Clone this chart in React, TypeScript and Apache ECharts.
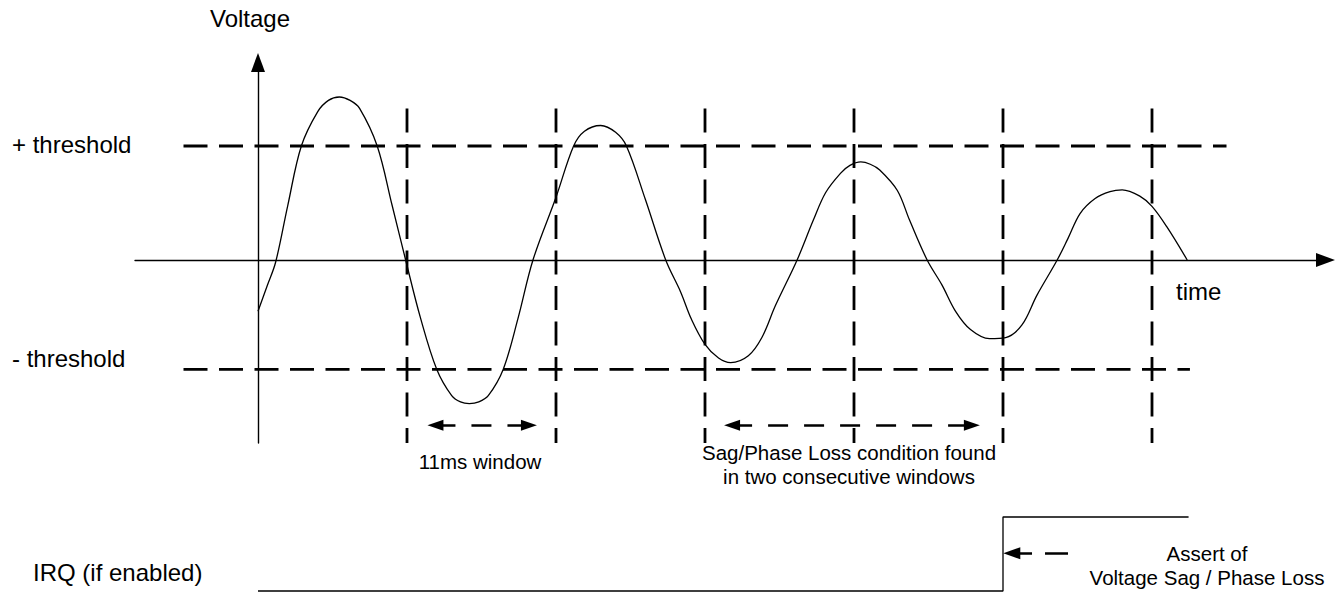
import React, { useEffect, useRef } from "react";
import * as echarts from "echarts";

// ---------- data ----------
const timeMs = [
  0, 0.7, 1.3, 2.2, 3.2, 4.4, 5.2, 6.0, 6.8, 7.5, 8.8, 9.9,
  10.9, 12.0, 13.2, 14.3, 14.95, 15.6, 16.3, 17.0, 18.1, 19.2, 20.3, 22.0,
  23.3, 24.1, 25.3, 26.4, 27.2, 28.6, 30.1, 31.2, 32.0, 33.0,
  34.0, 34.9, 36.2, 37.2, 38.2, 39.8, 41.0, 41.9, 43.0, 43.7, 44.5, 45.2,
  45.9, 47.2, 48.1, 49.4, 50.5, 51.5, 52.6, 54.0, 55.2, 56.4,
  57.5, 59.0, 59.8, 60.7, 61.8, 62.9, 63.8, 65.1, 66.0, 67.1,
  68.6,
];
const voltage = [
  -0.45, -0.22, -0.02, 0.48, 1.0, 1.3, 1.4, 1.43, 1.4, 1.33, 1.0, 0.48,
  0, -0.51, -0.96, -1.19, -1.245, -1.26, -1.245, -1.19, -0.96, -0.51, 0, 0.55,
  1.0, 1.13, 1.18, 1.12, 1.0, 0.53, 0, -0.28, -0.52, -0.74,
  -0.86, -0.9, -0.84, -0.68, -0.4, 0, 0.35, 0.59, 0.76, 0.83, 0.86, 0.84,
  0.79, 0.61, 0.35, 0, -0.22, -0.45, -0.61, -0.69, -0.68, -0.57,
  -0.31, 0, 0.19, 0.41, 0.54, 0.6, 0.615, 0.56, 0.47, 0.29,
  0,
];
const windowEdgesMs = [11, 22, 33, 44, 55, 66];
const plusThreshold = 1.0;
const minusThreshold = -0.96;
const plusThresholdSpanMs = [-5.5, 71.5];
const minusThresholdSpanMs = [-5.5, 68.8];
const windowLineTopV = 1.33;
const irqTimeMs = [0, 55, 55, 68.7];
const irqLevel = [0, 0, 1, 1];
const windowArrowMs = [13.1, 20.0];
const sagArrowMs = [35.0, 52.7];
const arrowLevelV = -1.45;
const irqArrowMs = [59.8, 55.65];
const irqArrowLevel = 0.51;

const labels = {
  yName: "Voltage",
  xName: "time",
  plus: "+ threshold",
  minus: "- threshold",
  irq: "IRQ (if enabled)",
  window: "11ms window",
  sag1: "Sag/Phase Loss condition found",
  sag2: "in two consecutive windows",
  assert1: "Assert of",
  assert2: "Voltage Sag / Phase Loss",
};

// ---------- layout ----------
const W = 1340;
const H = 602;
const PX_PER_MS = 149 / 11;
const PX_PER_V = 114;
const ORIGIN_X = 258;
const ORIGIN_Y = 260;
const GRID_LEFT = 135;
const GRID_RIGHT_PX = 1325.5;
const GRID_TOP = 62.5;
const GRID_BOTTOM_PX = 443;
const X_MIN = (GRID_LEFT - ORIGIN_X) / PX_PER_MS;
const X_MAX = (GRID_RIGHT_PX - ORIGIN_X) / PX_PER_MS;
const Y_MAX = (ORIGIN_Y - GRID_TOP) / PX_PER_V;
const Y_MIN = (ORIGIN_Y - GRID_BOTTOM_PX) / PX_PER_V;

const FONT = '"Liberation Sans", Arial, Helvetica, sans-serif';
const BLACK = "#000";
const DASH = [24, 11.5];

function txt(text: string, x: number, y: number, size: number, align: string) {
  return {
    type: "text",
    x,
    y,
    silent: true,
    style: {
      text,
      fill: BLACK,
      fontSize: size,
      fontFamily: FONT,
      align,
      verticalAlign: "middle",
    },
  };
}

export default function App() {
  const ref = useRef<HTMLDivElement>(null);

  useEffect(() => {
    if (!ref.current) return;
    const chart = echarts.init(ref.current, undefined, { renderer: "svg" });

    const hiddenAxisParts = {
      axisTick: { show: false },
      axisLabel: { show: false },
      splitLine: { show: false },
    };

    const windowLines = windowEdgesMs.map((t) => ({
      type: "line",
      xAxisIndex: 0,
      yAxisIndex: 0,
      data: [
        [t, windowLineTopV],
        [t, Y_MIN],
      ],
      symbol: "none",
      clip: false,
      silent: true,
      lineStyle: { color: BLACK, width: 2.8, type: DASH },
    }));

    const option = {
      animation: false,
      backgroundColor: "#fff",
      grid: [
        { left: GRID_LEFT, right: W - GRID_RIGHT_PX, top: GRID_TOP, bottom: H - GRID_BOTTOM_PX },
        { left: GRID_LEFT, right: W - GRID_RIGHT_PX, top: 517, height: 74 },
      ],
      xAxis: [
        {
          type: "value",
          gridIndex: 0,
          min: X_MIN,
          max: X_MAX,
          axisLine: {
            show: true,
            onZero: true,
            symbol: ["none", "triangle"],
            symbolSize: [14, 19],
            lineStyle: { color: BLACK, width: 1.4 },
          },
          ...hiddenAxisParts,
        },
        { type: "value", gridIndex: 1, min: X_MIN, max: X_MAX, show: false },
      ],
      yAxis: [
        {
          type: "value",
          gridIndex: 0,
          min: Y_MIN,
          max: Y_MAX,
          axisLine: {
            show: true,
            onZero: true,
            symbol: ["none", "triangle"],
            symbolSize: [14, 19],
            lineStyle: { color: BLACK, width: 1.4 },
          },
          ...hiddenAxisParts,
        },
        { type: "value", gridIndex: 1, min: 0, max: 1, show: false },
      ],
      series: [
        {
          type: "line",
          name: "+ threshold",
          data: plusThresholdSpanMs.map((t) => [t, plusThreshold]),
          symbol: "none",
          clip: false,
          silent: true,
          lineStyle: { color: BLACK, width: 2.8, type: DASH },
        },
        {
          type: "line",
          name: "- threshold",
          data: minusThresholdSpanMs.map((t) => [t, minusThreshold]),
          symbol: "none",
          clip: false,
          silent: true,
          lineStyle: { color: BLACK, width: 2.8, type: DASH },
        },
        ...windowLines,
        {
          type: "line",
          name: "Voltage",
          data: timeMs.map((t, i) => [t, voltage[i]]),
          symbol: "none",
          smooth: 0.35,
          clip: false,
          silent: true,
          lineStyle: { color: BLACK, width: 1.3 },
          markLine: {
            silent: true,
            symbol: ["triangle", "triangle"],
            symbolSize: [11, 16],
            label: { show: false },
            lineStyle: { color: BLACK, width: 2.6, type: [20, 16] },
            data: [
              [
                { coord: [windowArrowMs[0], arrowLevelV] },
                { coord: [windowArrowMs[1], arrowLevelV] },
              ],
              [
                { coord: [sagArrowMs[0], arrowLevelV] },
                { coord: [sagArrowMs[1], arrowLevelV] },
              ],
            ],
          },
        },
        {
          type: "line",
          name: "IRQ",
          xAxisIndex: 1,
          yAxisIndex: 1,
          data: irqTimeMs.map((t, i) => [t, irqLevel[i]]),
          symbol: "none",
          clip: false,
          silent: true,
          lineStyle: { color: BLACK, width: 1.3 },
          markLine: {
            silent: true,
            symbol: ["none", "triangle"],
            symbolSize: [12, 17],
            label: { show: false },
            lineStyle: { color: BLACK, width: 2.6, type: [23, 13] },
            data: [
              [
                { coord: [irqArrowMs[0], irqArrowLevel] },
                { coord: [irqArrowMs[1], irqArrowLevel] },
              ],
            ],
          },
        },
      ],
      graphic: [
        txt(labels.yName, 250, 18.5, 24, "center"),
        txt(labels.plus, 12, 144.5, 24, "left"),
        txt(labels.minus, 12, 358.5, 24, "left"),
        txt(labels.xName, 1176, 291.5, 24, "left"),
        txt(labels.irq, 33, 572.5, 24, "left"),
        txt(labels.window, 480, 461.5, 20.5, "center"),
        txt(labels.sag1, 849, 452, 20.5, "center"),
        txt(labels.sag2, 849, 476.5, 20.5, "center"),
        txt(labels.assert1, 1207, 553, 20.5, "center"),
        txt(labels.assert2, 1207, 577.5, 20.5, "center"),
      ],
    };

    chart.setOption(option as any);
    return () => {
      chart.dispose();
    };
  }, []);

  return (
    <div
      ref={ref}
      style={{ position: "fixed", left: 0, top: 0, width: W, height: H, background: "#fff" }}
    />
  );
}
